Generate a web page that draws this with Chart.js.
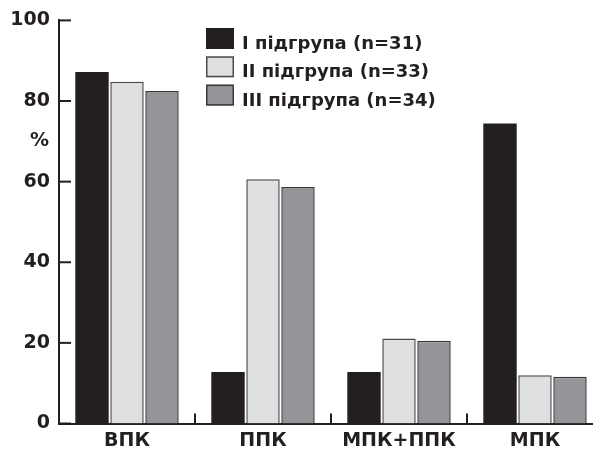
<!DOCTYPE html>
<html>
<head>
<meta charset="utf-8">
<script src="https://cdn.jsdelivr.net/npm/chart.js@4"></script>
<style>
  html, body { margin: 0; padding: 0; background: #fff; overflow: hidden; }
  #wrap { width: 604px; height: 450px; }
</style>
</head>
<body>
<div id="wrap"><canvas id="myChart" width="604" height="450"></canvas></div>
<script>
// categories and series
const categories = ['ВПК', 'ППК', 'МПК+ППК', 'МПК'];
const group1 = [87.2, 12.8, 12.8, 74.4];
const group2 = [84.8, 60.6, 21.1, 12.0];
const group3 = [82.5, 58.7, 20.5, 11.6];
const seriesNames = ['І підгрупа (n=31)', 'ІІ підгрупа (n=33)', 'ІІІ підгрупа (n=34)'];
const yTicks = [0, 20, 40, 60, 80, 100];

const ink = '#231f20';
const family = '"DejaVu Sans", "Liberation Sans", Arial, sans-serif';

// tick marks inside the plot, the "%" label and the legend
const extras = {
    id: 'extras',
    afterDraw(chart) {
        const ctx = chart.ctx;
        const x = chart.scales.x, y = chart.scales.y;
        const area = chart.chartArea;
        ctx.save();
        ctx.strokeStyle = ink;
        ctx.lineWidth = 2;
        // y ticks point right
        yTicks.forEach(v => {
            const py = y.getPixelForValue(v);
            ctx.beginPath();
            ctx.moveTo(area.left, py);
            ctx.lineTo(area.left + 12, py);
            ctx.stroke();
        });
        // x ticks between categories point up
        for (let i = 0; i < categories.length - 1; i++) {
            const px = (x.getPixelForValue(i) + x.getPixelForValue(i + 1)) / 2;
            ctx.beginPath();
            ctx.moveTo(px, area.bottom);
            ctx.lineTo(px, area.bottom - 10);
            ctx.stroke();
        }
        // "%" label
        ctx.fillStyle = ink;
        ctx.font = 'bold 19px ' + family;
        ctx.textAlign = 'right';
        ctx.textBaseline = 'middle';
        ctx.fillText('%', 49, y.getPixelForValue(70));
        // legend
        ctx.font = 'bold 18px ' + family;
        ctx.textAlign = 'left';
        ctx.textBaseline = 'alphabetic';
        chart.data.datasets.forEach((ds, i) => {
            const top = 28 + i * 28.3;
            ctx.fillStyle = ds.backgroundColor;
            ctx.fillRect(206, top, 28, 21);
            if (ds.borderWidth) {
                ctx.strokeStyle = ds.borderColor;
                ctx.lineWidth = 1.5;
                ctx.strokeRect(206.75, top + 0.75, 26.5, 19.5);
            }
            ctx.fillStyle = ink;
            ctx.fillText(ds.label, 242, top + 21);
        });
        ctx.restore();
    }
};

const ctx = document.getElementById('myChart').getContext('2d');
const myChart = new Chart(ctx, {
    type: 'bar',
    data: {
        labels: categories,
        datasets: [{
            label: seriesNames[0],
            data: group1,
            backgroundColor: ink,
            borderWidth: 0
        }, {
            label: seriesNames[1],
            data: group2,
            backgroundColor: '#dfe0e2',
            borderColor: '#4a4a4c',
            borderWidth: 1.5
        }, {
            label: seriesNames[2],
            data: group3,
            backgroundColor: '#939598',
            borderColor: '#3a3a3c',
            borderWidth: 1.5
        }]
    },
    options: {
        responsive: false,
        animation: false,
        layout: { padding: { top: 19, right: 1, left: 0, bottom: 0 } },
        datasets: {
            bar: { categoryPercentage: 0.772, barPercentage: 0.955 }
        },
        plugins: {
            legend: { display: false },
            tooltip: { enabled: false }
        },
        scales: {
            x: {
                grid: { display: false, drawTicks: false },
                border: { display: true, color: ink, width: 2 },
                ticks: { color: ink, font: { family: family, size: 19, weight: 'bold' }, padding: 6 },
                afterFit: s => { s.height = 26.5; }
            },
            y: {
                min: 0,
                max: 100,
                grid: { display: false, drawTicks: false },
                border: { display: true, color: ink, width: 2 },
                ticks: {
                    stepSize: 20,
                    color: ink,
                    padding: 9,
                    font: { family: family, size: 19, weight: 'bold' }
                },
                afterFit: s => { s.width = 59; }
            }
        }
    },
    plugins: [extras]
});
</script>
</body>
</html>
